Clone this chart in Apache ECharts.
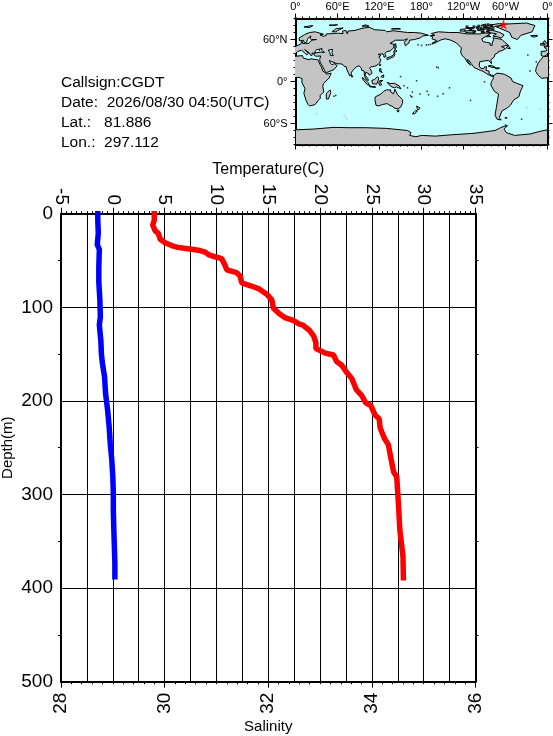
<!DOCTYPE html>
<html>
<head>
<meta charset="utf-8">
<style>
html,body{margin:0;padding:0;background:#fff}
#chart{width:553px;height:736px}
</style>
<script src="https://cdn.jsdelivr.net/npm/echarts@6/dist/echarts.min.js"></script>
</head>
<body>
<div id="chart"></div>
<script>
// profile values
var tempDepth = [0,7,12,18,21,27,31,34,36,37,38,39,41,44,46,48,55,60,63,67,74,77,80,86,92,101,107,111,114,118,119,125,131,138,144,149,151,158,162,170,176,188,194,202,205,215,219,229,240,247,262,276,281,299,317,338,352,366,389];
var tempValues = [4.0,4.0,3.85,4.07,4.39,4.56,5.04,5.68,6.26,6.9,7.6,8.25,8.9,9.29,9.86,10.5,10.83,11.0,11.95,12.3,12.44,13.3,14.05,14.85,15.34,15.5,16.07,16.6,17.4,18.0,18.35,19.0,19.4,19.6,19.6,20.5,21.3,21.6,22.1,22.6,23.06,23.5,24.0,24.4,24.9,25.3,25.7,25.8,26.2,26.6,26.85,27.1,27.4,27.5,27.6,27.7,27.85,28.0,28.04];
var salDepth = [0,7,21,33,38,57,73,92,110,119,136,150,160,174,192,210,228,245,263,281,299,317,338,356,374,388];
var salValues = [28.71,28.71,28.72,28.70,28.74,28.73,28.73,28.75,28.76,28.74,28.77,28.78,28.80,28.84,28.86,28.90,28.93,28.95,28.98,29.0,29.01,29.01,29.02,29.03,29.04,29.04];

var infoLines = ['Callsign:CGDT','Date:  2026/08/30 04:50(UTC)','Lat.:   81.886','Lon.:  297.112'];
var stationPos = [297.112, 81.886];
var lonLabels = {0:'0°',60:'60°E',120:'120°E',180:'180°',240:'120°W',300:'60°W',360:'0°'};
var latLabels = {60:'60°N',0:'0°','-60':'60°S'};

// coastlines, [lon,lat]
var eurasia = [[-9,37],[-9,43],[-2,43.5],[-1,46],[-4.5,48.5],[2,51],[8,54],[8.5,57],[10.5,57.5],[10,54.5],[14,54],[19,54.5],[21,57],[24,59],[30,60],[23,60],[21,61],[22,65],[18,62],[17,60],[16,56],[13,55.5],[11,59],[6,58],[5,62],[13,67],[20,70],[28,71],[40,67.5],[35,66.5],[40,64.5],[44,66],[44,68],[54,68.5],[60,69],[68,68.5],[67,72],[72,73],[74,68],[75,72],[85,73],[95,76],[105,77.5],[113,74],[128,73],[130,71],[140,72.5],[160,70],[170,70],[180,69],[190,66],[181,65],[179,62.5],[170,60],[163,59],[162,55],[157,51],[155.5,56],[160,61],[155,59],[143,59],[135,54.5],[141,53],[140,48],[135,43.5],[130,42.5],[127.5,39.5],[129.5,36],[126.5,34.5],[126,37],[125,39.5],[121,39],[118,39],[122,37],[119,35],[122,31],[120,26],[115,22.5],[110,21],[108,21.5],[106,19],[109,14],[109,11.5],[105,9],[105,10.5],[100.5,13.5],[99.5,9],[103.5,4],[104,1.3],[101,3],[98.5,8],[98,15],[94.5,16],[94,19],[91,22.5],[87,21],[82,16],[80,13],[79.5,9.5],[77.5,8],[73,18],[72.5,21],[69,22],[66.5,25],[57,25.5],[56.5,27],[51,28.5],[48.5,30],[50,26],[52,24],[56,25.5],[59.5,22.5],[55,17],[45,13],[43,13],[39,21],[35,28],[34.5,31.5],[36,36.5],[30,36],[27,37],[26,40],[29,41],[35,42],[41.5,41.5],[37,45],[38,47],[33.5,46],[35,44.5],[33,45.5],[30.5,46],[28,43],[29,41.2],[26,40.5],[23.5,40.5],[24,38],[22.5,36.5],[19.5,41],[13,45.5],[16,43],[18.5,40],[16,38],[12,42],[8.5,44.5],[3,43],[0,39.5],[-2,37],[-5.5,36]];
var africa = [[-6,35.5],[10,37],[11,33.5],[20,31],[21,32.5],[32,31],[32.5,30],[35,24],[37,21],[39,15],[43,12],[44,10.5],[51,12],[48,5],[40,-3],[39,-7],[40.5,-15],[35,-20],[35.5,-24],[32.5,-27],[28,-33],[20,-35],[18,-33],[15,-27],[12,-17],[13.5,-10],[9,-1],[9.5,4],[5,6],[-4,5],[-8,4.5],[-13,8.5],[-17,14.5],[-16,20],[-13,27],[-9,32]];
var northAmerica = [[-168,65.5],[-161,66],[-166,68.5],[-156,71],[-140,70],[-128,70],[-115,68],[-108,68],[-95,68],[-94,72],[-88,69],[-81,69],[-85,66],[-94,61],[-92,57],[-82,55],[-82,52],[-79,51.5],[-79,55],[-77,60],[-78,62.5],[-70,61],[-65,60],[-61,56],[-56,52],[-66,50],[-60,47],[-65,44],[-70,43],[-70,41.5],[-75,39],[-76,35],[-81,31],[-80,25.5],[-82,28],[-84,30],[-90,29.5],[-97,28],[-97.5,22],[-95,18.5],[-91,18.5],[-90,21],[-87,21],[-88,16],[-83.5,15],[-83.5,11],[-80,9],[-77,8.5],[-77.5,7.5],[-80,7.5],[-85,10],[-92,14.5],[-96,16],[-105,20],[-109,25.5],[-113,31],[-115,31],[-110,23],[-115,28],[-118,33.5],[-122,37],[-124,42],[-123,48],[-130,55],[-138,59],[-146,61],[-152,59.5],[-158,56.5],[-165,54.5],[-158,58.5],[-165,61],[-164,64]];
var southAmerica = [[-77.5,8],[-72,12],[-62,10.5],[-52,5],[-50,0],[-44,-2.5],[-35,-6],[-39,-15],[-41,-22],[-48,-26],[-53,-34],[-58,-38],[-65,-42],[-69,-52],[-66,-55],[-72,-54],[-75,-48],[-73,-37],[-70,-18],[-76,-14],[-81,-5],[-80,0],[-77.5,4]];
var greenland = [[-73,78],[-60,82],[-30,83.5],[-18,80],[-22,71],[-38,66],[-43,60],[-51,63],[-54,70],[-68,76]];
var australia = [[114,-22],[122,-18],[126,-14],[130,-12],[136,-12],[136,-15],[140,-17.5],[142,-11],[146,-19],[153,-26],[153,-31],[150,-37],[146,-39],[141,-38],[138,-35],[135,-34.5],[131,-31.5],[124,-33],[118,-35],[115,-34],[113.5,-26]];
var antarctica = [[0,-69],[25,-68],[55,-65.5],[75,-66],[100,-66],[130,-67],[160,-70],[165,-73],[163,-77],[172,-79],[180,-77],[200,-78],[225,-76],[255,-74],[285,-70],[295,-65],[303,-63],[298,-68],[301,-73],[313,-77],[335,-75],[350,-71],[360,-69],[360,-90],[0,-90]];
var islands = [
  [[-80,73.5],[-68,70],[-62,66.5],[-66,62],[-72,64],[-78,65],[-73,68],[-88,71]],
  [[-90,77],[-85,80],[-68,83],[-62,82],[-76,78]],
  [[-117,70],[-105,69],[-102,72],[-110,73],[-118,72]],
  [[-125,72],[-118,72],[-118,75],[-124,74.5]],
  [[-92,75],[-80,75],[-82,76],[-92,77]],
  [[-117,76],[-106,75],[-106,77],[-116,77]],
  [[-95,80],[-88,79],[-88,82],[-93,81]],
  [[-100,73],[-92,72],[-90,74],[-100,75]],
  [[-59,48],[-53,47],[-56,51.5]],
  [[-87,64],[-81,64],[-84,66]],
  [[-85,22],[-80,23],[-74,20],[-78,20]],
  [[-74,19.5],[-69,19.5],[-68.5,18.5],[-74,18]],
  [[-24,65.5],[-15,66],[-14,65],[-19,63.5],[-22,64]],
  [[-5,50],[1,51.5],[-2,56],[-4,58.5],[-6,56],[-3,53.5],[-5,52]],
  [[-10,52],[-6,52],[-6,55],[-10,54]],
  [[12,78],[25,80],[20,77]],
  [[52,71],[57,71],[68,76.5],[58,75.5]],
  [[95,79],[105,79],[100,81]],
  [[137,75],[150,75],[145,76]],
  [[48,80.5],[60,81],[55,80]],
  [[49.5,-12],[50.5,-16],[47,-25],[44,-25],[44,-17]],
  [[80,9.5],[82,7],[80.5,6]],
  [[130.5,34],[136,35.5],[140,38],[141,41],[142,39],[140.5,35.5],[136,33.5],[131,31]],
  [[140,42],[142,45.5],[145,43.5],[143,42]],
  [[142,46],[144,49],[143,54],[142,54],[142,48]],
  [[121,25],[122,24],[120.5,22],[120,23.5]],
  [[120,18],[122,18.5],[122,15],[124,13],[120.5,14]],
  [[122,7],[126,9.5],[126,6],[124,6]],
  [[109,1.5],[113,3],[117,7],[119,5],[118,1],[116,-4],[110,-3]],
  [[95,5.5],[98,4],[104,-2],[106,-6],[102,-4],[97,2]],
  [[105.5,-6.5],[114.5,-7.5],[114,-8.5],[106,-7.5]],
  [[120,1],[125,1.5],[121,-1],[123,-5],[120,-5.5],[119,-2]],
  [[131,-1],[135,-3],[141,-2.5],[148,-6],[150.5,-10.5],[144,-7.5],[142,-9],[138,-8],[133,-4]],
  [[145,-41],[148,-41],[147,-43.5],[146,-43.5]],
  [[173,-35],[178,-38],[175,-41],[174,-39]],
  [[172,-41],[174,-42],[170,-46.5],[167,-46],[170,-43]],
  [[164,-20],[167,-22],[166,-22.5]],
  [[-61,-52],[-58,-51.5],[-58,-52.5]]
];
var caspian = [[47,45],[53,46],[52,41],[54,37],[50,37],[49,41]];
var tinySpots = [[201.7,20.7],[204,19.5],[167,-15],[178,-18],[160,-9],[155,-6],[211,-17.5],[188,-14],[250,-27],[203,-21],[270,-0.5],[335,15],[344,28],[332,38],[190,-19],[55,-21],[57.5,-20],[323,-54],[300,-62],[220,-9],[173,1],[150,7]];
var aleutians = [[175,52.5],[180,51.5],[187,52],[190,52.5],[193,53],[196,54],[199,55]];
var arcticSpots = [[260,77],[265,76],[255,78],[245,78],[282,75],[250,74],[255,71],[268,70],[275,73],[270,78],[262,79],[280,80],[275,81]];
var greySpots = [[70,-49],[73,-53],[30,-46],[330,-37],[350,-40]];

var lands = [eurasia,africa,northAmerica,southAmerica,greenland,australia,antarctica].concat(islands);
var landIdx = lands.map(function (l, i) { return [i]; });

var fontName = '"Liberation Sans", Arial, sans-serif';

function landItem(params, api) {
    var pts = lands[api.value(0)];
    var kids = [0, 360].map(function (off) {
        return {
            type: 'polygon',
            shape: { points: pts.map(function (p) { return api.coord([p[0] + off, p[1]]); }) },
            style: { fill: '#c4c4c4', stroke: '#000', lineWidth: 1 }
        };
    });
    return { type: 'group', children: kids };
}

function lakeItem(params, api) {
    return {
        type: 'polygon',
        shape: { points: caspian.map(function (p) { return api.coord(p); }) },
        style: { fill: '#c4ffff', stroke: '#000', lineWidth: 1 }
    };
}

function zip(xs, ys) {
    return xs.map(function (x, i) { return [x, ys[i]]; });
}

var blackLine = { show: true, onZero: false, lineStyle: { color: '#000', width: 2 } };
var hiddenLine = { show: false };

function mapLat(position, major) {
    var ax = {
        gridIndex: 1, type: 'value', position: position, min: -90, max: 90,
        axisLine: blackLine, splitLine: { show: false }
    };
    if (major) {
        ax.axisTick = { show: true, length: 5, customValues: [-60, 0, 60], lineStyle: { color: '#000' } };
        ax.axisLabel = {
            show: position == 'left', customValues: [-60, 0, 60], margin: 8,
            color: '#000', fontFamily: fontName, fontSize: 11,
            formatter: function (v) { return latLabels[v]; }
        };
    } else {
        ax.interval = 10;
        ax.axisTick = { show: true, length: 2, lineStyle: { color: '#000' } };
        ax.axisLabel = { show: false };
    }
    return ax;
}

var chart = echarts.init(document.getElementById('chart'));
chart.setOption({
    animation: false,
    backgroundColor: '#fff',
    graphic: infoLines.map(function (t, i) {
        return {
            type: 'text', left: 61, top: 74.5 + i * 20,
            style: { text: t, fill: '#000', font: '15.5px ' + fontName }
        };
    }),
    grid: [
        { left: 61, top: 213.7, width: 414.5, height: 468, outerBoundsMode: 'none', show: false },
        { left: 295.5, top: 18.5, width: 252, height: 126, outerBoundsMode: 'none', show: true, backgroundColor: '#c4ffff', borderWidth: 0 }
    ],
    xAxis: [
        {
            gridIndex: 0, type: 'value', position: 'top', min: -5, max: 35, interval: 5,
            name: 'Temperature(C)', nameLocation: 'middle', nameGap: 36, nameMoveOverlap: false,
            nameTextStyle: { color: '#000', fontFamily: fontName, fontSize: 16 },
            axisLine: blackLine,
            axisTick: { show: true, length: 6, lineStyle: { color: '#000' } },
            minorTick: { show: true, splitNumber: 10, length: 2.5, lineStyle: { color: '#000' } },
            axisLabel: {
                // top-aligned: the box is fixed and the digits sit at its far end
                rotate: 90, margin: 8.7, showMinLabel: true, showMaxLabel: true,
                formatter: function (v) { return '{t|' + v + '}'; },
                rich: { t: { width: 22, align: 'right', color: '#000', fontFamily: fontName, fontSize: 19 } }
            },
            splitLine: { show: false }
        },
        {
            gridIndex: 0, type: 'value', position: 'bottom', min: 28, max: 36, interval: 2,
            name: 'Salinity', nameLocation: 'middle', nameGap: 38, nameMoveOverlap: false,
            nameTextStyle: { color: '#000', fontFamily: fontName, fontSize: 15 },
            axisLine: blackLine,
            axisTick: { show: true, length: 6, lineStyle: { color: '#000' } },
            minorTick: { show: true, splitNumber: 10, length: 2.5, lineStyle: { color: '#000' } },
            axisLabel: { rotate: 90, margin: 11, color: '#000', fontFamily: fontName, fontSize: 19, showMinLabel: true, showMaxLabel: true },
            splitLine: { show: false }
        },
        {
            // only carries the vertical grid lines
            gridIndex: 0, type: 'value', position: 'bottom', min: 28, max: 36, interval: 0.5,
            axisLine: hiddenLine, axisTick: { show: false }, axisLabel: { show: false },
            splitLine: { show: true, lineStyle: { color: '#000', width: 1 } }
        },
        {
            gridIndex: 1, type: 'value', position: 'top', min: 0, max: 360, interval: 60,
            axisLine: blackLine,
            axisTick: { show: true, length: 5, lineStyle: { color: '#000' } },
            minorTick: { show: true, splitNumber: 6, length: 2, lineStyle: { color: '#000' } },
            axisLabel: {
                margin: 6, color: '#000', fontFamily: fontName, fontSize: 11, showMinLabel: true, showMaxLabel: true,
                formatter: function (v) { return lonLabels[v]; }
            },
            splitLine: { show: false }
        },
        {
            gridIndex: 1, type: 'value', position: 'bottom', min: 0, max: 360, interval: 60,
            axisLine: blackLine,
            axisTick: { show: true, length: 5, lineStyle: { color: '#000' } },
            minorTick: { show: true, splitNumber: 6, length: 2, lineStyle: { color: '#000' } },
            axisLabel: { show: false }, splitLine: { show: false }
        }
    ],
    yAxis: [
        {
            gridIndex: 0, type: 'value', position: 'left', inverse: true, min: 0, max: 500, interval: 100,
            name: 'Depth(m)', nameLocation: 'middle', nameGap: 46, nameMoveOverlap: false,
            nameTextStyle: { color: '#000', fontFamily: fontName, fontSize: 15 },
            axisLine: blackLine,
            axisTick: { show: true, length: 1, lineStyle: { color: '#000' } },
            minorTick: { show: true, splitNumber: 2, length: 3, lineStyle: { color: '#000' } },
            axisLabel: { margin: 8, color: '#000', fontFamily: fontName, fontSize: 19, showMinLabel: true, showMaxLabel: true },
            splitLine: { show: true, lineStyle: { color: '#000', width: 1 } }
        },
        {
            gridIndex: 0, type: 'value', position: 'right', inverse: true, min: 0, max: 500, interval: 100,
            axisLine: blackLine,
            axisTick: { show: true, length: 1, lineStyle: { color: '#000' } },
            minorTick: { show: true, splitNumber: 2, length: 3, lineStyle: { color: '#000' } },
            axisLabel: { show: false }, splitLine: { show: false }
        },
        mapLat('left', true), mapLat('left', false), mapLat('right', true), mapLat('right', false)
    ],
    series: [
        {
            type: 'custom', xAxisIndex: 3, yAxisIndex: 2, clip: true, silent: true,
            renderItem: landItem, data: landIdx, encode: { x: [], y: [] }, z: 2
        },
        {
            type: 'custom', xAxisIndex: 3, yAxisIndex: 2, clip: true, silent: true,
            renderItem: lakeItem, data: [[0]], encode: { x: [], y: [] }, z: 3
        },
        {
            type: 'scatter', xAxisIndex: 3, yAxisIndex: 2, symbol: 'rect', symbolSize: 1.5,
            itemStyle: { color: '#000' }, data: tinySpots.concat(aleutians), z: 3, silent: true
        },
        {
            type: 'scatter', xAxisIndex: 3, yAxisIndex: 2, symbol: 'rect', symbolSize: 3,
            itemStyle: { color: '#000' }, data: arcticSpots, z: 3, silent: true
        },
        {
            type: 'scatter', xAxisIndex: 3, yAxisIndex: 2, symbol: 'rect', symbolSize: 2,
            itemStyle: { color: '#c4c4c4' }, data: greySpots, z: 3, silent: true
        },
        {
            type: 'scatter', xAxisIndex: 3, yAxisIndex: 2, symbol: 'path://M50 0 L61 35 L98 35 L68 57 L79 91 L50 70 L21 91 L32 57 L2 35 L39 35 Z', symbolSize: 11,
            itemStyle: { color: '#f00' }, data: [stationPos], z: 6, silent: true
        },
        {
            type: 'line', xAxisIndex: 0, yAxisIndex: 0, showSymbol: false, z: 5,
            lineStyle: { color: '#f00', width: 5.5, cap: 'square' }, data: zip(tempValues, tempDepth), silent: true
        },
        {
            type: 'line', xAxisIndex: 1, yAxisIndex: 0, showSymbol: false, z: 5,
            lineStyle: { color: '#00f', width: 5.5, cap: 'square' }, data: zip(salValues, salDepth), silent: true
        }
    ]
});
</script>
</body>
</html>
